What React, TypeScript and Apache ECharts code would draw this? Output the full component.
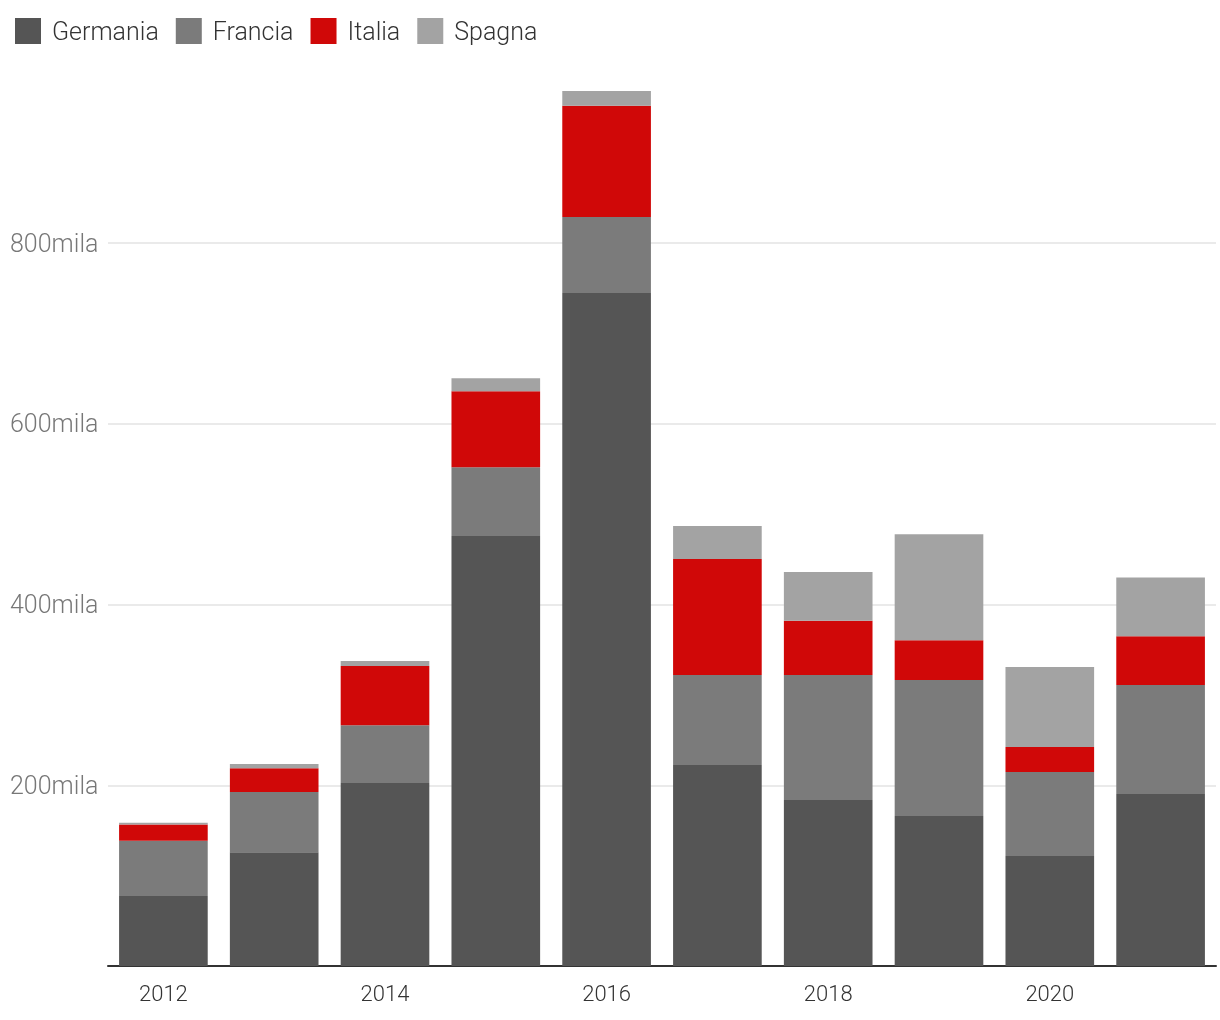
import React, { useEffect, useRef } from "react";
import * as echarts from "echarts";

const years = ["2012", "2013", "2014", "2015", "2016", "2017", "2018", "2019", "2020", "2021"];
const germania = [77.5, 126, 202.5, 476, 745, 222.5, 183.7, 166, 121.7, 190.4];
const francia = [61, 66.5, 64, 76, 84, 99.5, 138.4, 150.5, 93, 120.6];
const italia = [18, 26.5, 65.5, 84, 123, 128.5, 60, 44, 27.7, 54];
const spagna = [2, 4.5, 5.5, 14.5, 16.5, 36.5, 54, 117.5, 88.5, 65];

const seriesNames = ["Germania", "Francia", "Italia", "Spagna"];
const seriesData = [germania, francia, italia, spagna];
const colors = ["#555555", "#7b7b7b", "#d00808", "#a3a3a3"];

export default function App() {
  const ref = useRef<HTMLDivElement>(null);
  useEffect(() => {
    if (!ref.current) return;
    const chart = echarts.init(ref.current, null, { renderer: "svg" });
    const font = "Roboto, 'Noto Sans', sans-serif";
    chart.setOption({
      animation: false,
      textStyle: { fontFamily: font },
      legend: {
        left: 10,
        top: 13,
        itemWidth: 26,
        itemHeight: 26,
        itemGap: 17,
        icon: "rect",
        textStyle: { fontSize: 25, color: "#333", fontFamily: font, fontWeight: 300, padding: [0, 0, 0, 6] },
        data: seriesNames,
      },
      grid: { left: 108, right: 4, top: 62.5, bottom: 54, containLabel: false },
      xAxis: {
        type: "category",
        data: years,
        axisLine: { show: true, lineStyle: { color: "#333", width: 2 } },
        axisTick: { show: false },
        axisLabel: { interval: 1, fontSize: 22, color: "#333", margin: 16, fontFamily: font, fontWeight: 300 },
      },
      yAxis: {
        type: "value",
        min: 0,
        max: 1000,
        interval: 200,
        axisLine: { show: false },
        axisTick: { show: false },
        axisLabel: {
          fontSize: 25,
          color: "#777",
          align: "left",
          margin: 98,
          fontFamily: font,
          fontWeight: 300,
          formatter: (v: number) => (v === 0 || v === 1000 ? "" : v + "mila"),
        },
        splitLine: {
          show: true,
          lineStyle: {
            color: ["rgba(0,0,0,0)", "#e3e3e3", "#e3e3e3", "#e3e3e3", "#e3e3e3", "rgba(0,0,0,0)"],
            width: 1.5,
          },
        },
      },
      series: seriesNames.map((name, i) => ({
        name,
        type: "bar",
        stack: "total",
        data: seriesData[i],
        barCategoryGap: "20%",
        itemStyle: { color: colors[i] },
      })),
    });
    return () => chart.dispose();
  }, []);
  return (
    <div
      ref={ref}
      style={{ position: "fixed", left: 0, top: 0, width: 1220, height: 1020 }}
    />
  );
}
